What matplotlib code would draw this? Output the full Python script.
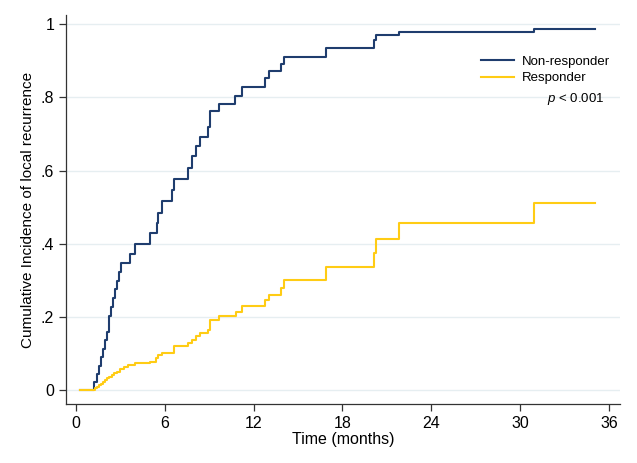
import numpy as np
from matplotlib import pyplot as plt

plt.rcParams['font.family'] = ['Liberation Sans', 'DejaVu Sans']
plt.rcParams['mathtext.fontset'] = 'custom'
plt.rcParams['mathtext.it'] = 'Liberation Sans:italic'
plt.rcParams['mathtext.rm'] = 'Liberation Sans'

# Non-responder cumulative incidence (step function)
nonresp_t = [0.3, 1.21, 1.39, 1.57, 1.71, 1.84, 1.93, 2.07, 2.20, 2.34, 2.52, 2.65,
             2.79, 2.92, 3.06, 3.64, 4.00, 5.03, 5.44, 5.57, 5.84, 6.50, 6.60, 7.60,
             7.87, 8.14, 8.36, 8.95, 9.08, 9.66, 10.74, 11.24, 12.77, 13.04, 13.85,
             14.07, 16.86, 20.14, 20.27, 21.85, 30.93, 35.04]
nonresp_y = [0, 0.021, 0.044, 0.066, 0.091, 0.112, 0.137, 0.159, 0.203, 0.228, 0.251,
             0.275, 0.298, 0.322, 0.346, 0.373, 0.399, 0.428, 0.457, 0.484, 0.516,
             0.548, 0.578, 0.608, 0.639, 0.667, 0.692, 0.720, 0.763, 0.783, 0.805,
             0.827, 0.852, 0.872, 0.891, 0.911, 0.936, 0.956, 0.970, 0.979, 0.986,
             0.986]

# Responder cumulative incidence
resp_t = [0.3, 1.28, 1.42, 1.55, 1.69, 1.82, 1.96, 2.09, 2.23, 2.41, 2.59, 2.77,
          2.99, 3.22, 3.53, 3.98, 5.00, 5.40, 5.56, 5.81, 6.62, 7.60, 7.83, 8.10,
          8.37, 8.95, 9.05, 9.66, 10.79, 11.24, 12.77, 13.04, 13.85, 14.07, 16.86,
          20.14, 20.27, 21.85, 30.93, 35.04]
resp_y = [0, 0.005, 0.009, 0.014, 0.018, 0.023, 0.027, 0.032, 0.036, 0.041, 0.046,
          0.050, 0.057, 0.062, 0.068, 0.073, 0.078, 0.088, 0.095, 0.102, 0.120,
          0.129, 0.137, 0.148, 0.157, 0.164, 0.191, 0.202, 0.214, 0.230, 0.246,
          0.261, 0.280, 0.302, 0.336, 0.375, 0.413, 0.457, 0.510, 0.510]

x_ticks = [0, 6, 12, 18, 24, 30, 36]
y_ticks = [0, 0.2, 0.4, 0.6, 0.8, 1.0]
y_ticklabels = ['0', '.2', '.4', '.6', '.8', '1']

fig = plt.figure(figsize=(6.37, 4.63), dpi=100)
ax = fig.add_axes([0.1036, 0.1274, 0.8697, 0.8402])

for y in y_ticks:
    ax.axhline(y, color='#e6eef1', lw=1.0, zorder=0)

ax.step(nonresp_t, nonresp_y, where='post', color='#1f3d6e', lw=1.5, label='Non-responder')
ax.step(resp_t, resp_y, where='post', color='#ffcc14', lw=1.5, label='Responder')

ax.set_xlim(-0.675, 36.75)
ax.set_ylim(-0.038, 1.025)
ax.set_xticks(x_ticks)
ax.set_yticks(y_ticks)
ax.set_yticklabels(y_ticklabels)
ax.tick_params(direction='out', length=5, width=0.9, color='#333333',
               labelsize=11.5, pad=3.5)
for side in ['top', 'right']:
    ax.spines[side].set_visible(False)
for side in ['left', 'bottom']:
    ax.spines[side].set_color('#333333')
    ax.spines[side].set_linewidth(0.9)

ax.set_xlabel('Time (months)', fontsize=11.5, labelpad=1)
ax.set_ylabel('Cumulative Incidence of local recurrence', fontsize=11, labelpad=4)

ax.legend(loc='upper right', bbox_to_anchor=(0.982, 0.895), frameon=False,
          fontsize=9.5, handlelength=2.5, handletextpad=0.6, labelspacing=0.3,
          borderaxespad=0, borderpad=0)
ax.text(35.73, 0.795, '$p$ < 0.001', ha='right', va='center', fontsize=9.5)

fig.savefig('out.png', dpi=100)
